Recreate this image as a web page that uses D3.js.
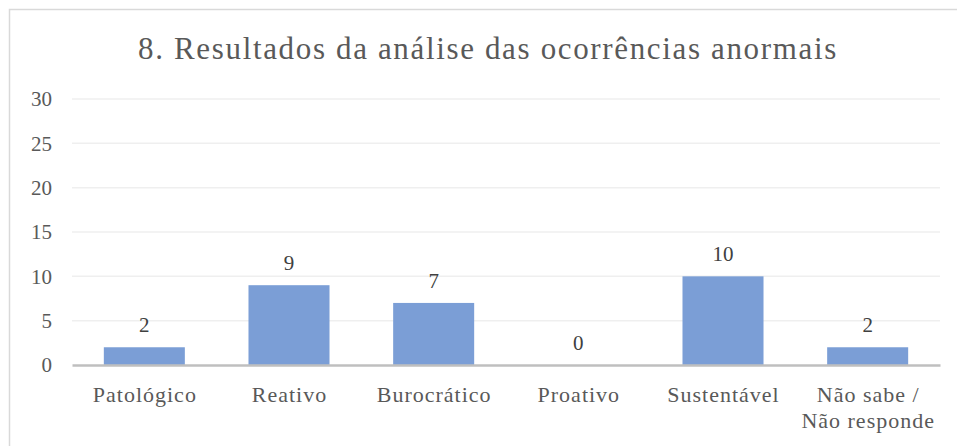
<!DOCTYPE html>
<html>
<head>
<meta charset="utf-8">
<script src="https://cdn.jsdelivr.net/npm/d3@7"></script>
<style>
  body { margin: 0; background: #fff; }
  svg text { font-family: "Liberation Serif", "Times New Roman", serif; }
</style>
</head>
<body>
<div id="chart"></div>
<script>
// chart data
var categories = ["Patológico", "Reativo", "Burocrático", "Proativo", "Sustentável", "Não sabe / Não responde"];
var values = [2, 9, 7, 0, 10, 2];
var yTicks = [0, 5, 10, 15, 20, 25, 30];
var title = "8. Resultados da análise das ocorrências anormais";

var W = 957, H = 446;
var margin = {top: 99, right: 17, bottom: 81, left: 72};
var width = W - margin.left - margin.right;
var height = H - margin.top - margin.bottom;

var svg = d3.select("#chart").append("svg")
    .attr("width", W)
    .attr("height", H);

// outer frame
svg.append("rect")
    .attr("x", 9.5).attr("y", 9.5)
    .attr("width", W + 10).attr("height", H + 10)
    .attr("fill", "none")
    .attr("stroke", "#d9d9d9")
    .attr("stroke-width", 1.5);

svg.append("text")
    .attr("x", 488)
    .attr("y", 59)
    .attr("text-anchor", "middle")
    .attr("fill", "#595959")
    .style("font-size", "31px")
    .style("letter-spacing", "1.65px")
    .text(title);

var g = svg.append("g")
    .attr("transform", "translate(" + margin.left + "," + margin.top + ")");

var x = d3.scaleBand()
    .domain(categories)
    .range([0, width])
    .paddingInner(0.44)
    .paddingOuter(0.22);

var y = d3.scaleLinear()
    .domain([0, 30])
    .range([height, 0]);

// gridlines
g.selectAll("line.grid")
    .data(yTicks.filter(function(d) { return d > 0; }))
    .enter().append("line")
    .attr("class", "grid")
    .attr("x1", 0).attr("x2", width)
    .attr("y1", function(d) { return y(d); })
    .attr("y2", function(d) { return y(d); })
    .attr("stroke", "#efefef")
    .attr("stroke-width", 1.5);

// y axis labels
var yAxis = d3.axisLeft(y).tickValues(yTicks).tickSize(0).tickPadding(20);
g.append("g")
    .attr("class", "y-axis")
    .call(yAxis)
    .call(function(s) { s.select(".domain").remove(); })
    .selectAll("text")
    .attr("fill", "#595959")
    .style("font-size", "21px");

// bars
g.selectAll("rect.bar")
    .data(values)
    .enter().append("rect")
    .attr("class", "bar")
    .attr("x", function(d, i) { return x(categories[i]); })
    .attr("width", x.bandwidth())
    .attr("y", function(d) { return y(d); })
    .attr("height", function(d) { return height - y(d); })
    .attr("fill", "#7b9ed6");

// value labels
g.selectAll("text.val")
    .data(values)
    .enter().append("text")
    .attr("class", "val")
    .attr("x", function(d, i) { return x(categories[i]) + x.bandwidth() / 2; })
    .attr("y", function(d) { return y(d) - 15; })
    .attr("text-anchor", "middle")
    .attr("fill", "#404040")
    .style("font-size", "21px")
    .text(function(d) { return d; });

// x axis
var xAxis = d3.axisBottom(x).tickSize(0).tickPadding(0);
var xg = g.append("g")
    .attr("class", "x-axis")
    .attr("transform", "translate(0," + height + ")")
    .call(xAxis);
xg.select(".domain")
    .attr("stroke", "#bfbfbf")
    .attr("stroke-width", 2.5);
xg.selectAll(".tick text").remove();
xg.selectAll(".tick").each(function(d) {
    var lines = d == "Não sabe / Não responde" ? ["Não sabe /", "Não responde"] : [d];
    var t = d3.select(this).append("text")
        .attr("text-anchor", "middle")
        .attr("fill", "#595959")
        .style("font-size", "22px")
        .style("letter-spacing", "1px");
    lines.forEach(function(l, i) {
        t.append("tspan").attr("x", 0.5).attr("y", 37 + i * 26).text(l);
    });
});
</script>
</body>
</html>
